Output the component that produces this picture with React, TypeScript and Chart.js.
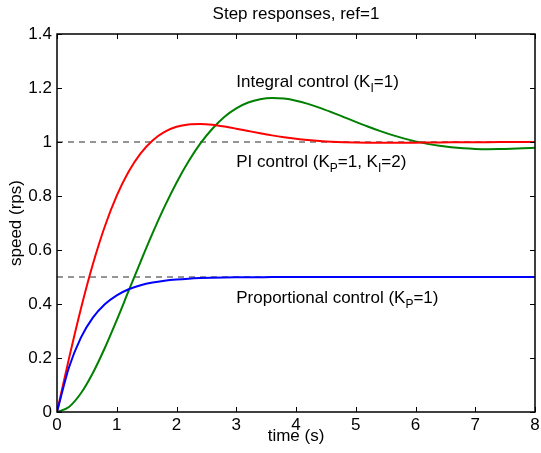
import { useEffect, useRef } from "react";
import { Chart, registerables } from "chart.js";

Chart.register(...registerables);

const timeS = [
  0, 0.2, 0.4, 0.6, 0.8, 1.0, 1.2, 1.4, 1.6, 1.8, 2.0, 2.2, 2.4, 2.6, 2.8, 3.0, 3.2, 3.4, 3.6, 3.8, 4.0,
  4.2, 4.4, 4.6, 4.8, 5.0, 5.2, 5.4, 5.6, 5.8, 6.0, 6.2, 6.4, 6.6, 6.8, 7.0, 7.2, 7.4, 7.6, 7.8, 8.0,
];
const proportional = [
  0, 0.1648, 0.2753, 0.3494, 0.3991, 0.4323, 0.4546, 0.4696, 0.4796, 0.4863, 0.4908, 0.4939, 0.4959,
  0.4972, 0.4982, 0.4988, 0.4992, 0.4994, 0.4996, 0.4997, 0.4998, 0.4999, 0.4999, 0.4999, 0.4999, 0.4999,
  0.5, 0.5, 0.5, 0.5, 0.5, 0.5, 0.5, 0.5, 0.5, 0.5, 0.5, 0.5, 0.5, 0.5, 0.5,
];
const integral = [
  0, 0.0187, 0.0694, 0.1446, 0.2371, 0.3403, 0.4491, 0.5573, 0.6622, 0.7604, 0.8494, 0.9277, 0.9947,
  1.0492, 1.0929, 1.1247, 1.1462, 1.1586, 1.163, 1.1607, 1.1531, 1.1413, 1.1266, 1.1099, 1.0923, 1.0746,
  1.0574, 1.0412, 1.0264, 1.0134, 1.0023, 0.9931, 0.9858, 0.9803, 0.9766, 0.9744, 0.9735, 0.9737, 0.9748,
  0.9767, 0.979,
];
const piControl = [
  0, 0.1976, 0.3826, 0.5471, 0.687, 0.8012, 0.8908, 0.9581, 1.0059, 1.0376, 1.0563, 1.0652, 1.0669,
  1.0637, 1.0573, 1.0493, 1.0407, 1.0323, 1.0245, 1.0177, 1.012, 1.0074, 1.0038, 1.0011, 0.9993, 0.9981,
  0.9974, 0.9971, 0.9971, 0.9973, 0.9976, 0.998, 0.9984, 0.9987, 0.999, 0.9993, 0.9995, 0.9997, 0.9999,
  1.0, 1.0,
];
const refX = [0, 8];
const refOne = [1, 1];
const refHalf = [0.5, 0.5];

const xTickLabels = ["0", "1", "2", "3", "4", "5", "6", "7", "8"];
const yTickLabels = ["0", "0.2", "0.4", "0.6", "0.8", "1", "1.2", "1.4"];
const titleText = "Step responses, ref=1";
const xLabel = "time (s)";
const yLabel = "speed (rps)";

type Part = [string, boolean];
const annotationX = [3, 3, 3];
const annotationY = [1.22, 0.925, 0.42];
const annotationParts: Part[][] = [
  [["Integral control (K", false], ["I", true], ["=1)", false]],
  [["PI control (K", false], ["P", true], ["=1, K", false], ["I", true], ["=2)", false]],
  [["Proportional control (K", false], ["P", true], ["=1)", false]],
];

const FONT = "'Liberation Sans', Arial, Helvetica, sans-serif";
const FS = 17;

const toPts = (xs: number[], ys: number[]) => xs.map((x, i) => ({ x, y: ys[i] }));

const decorPlugin = {
  id: "decor",
  afterDatasetsDraw(chart: any) {
    const { ctx, chartArea } = chart;
    const { left, right, top, bottom } = chartArea;
    const xs = chart.scales.x;
    const ys = chart.scales.y;
    ctx.save();
    ctx.strokeStyle = "#000";
    ctx.lineWidth = 1.5;
    ctx.strokeRect(left, top, right - left, bottom - top);
    ctx.lineWidth = 1;
    const tl = 5;
    ctx.beginPath();
    xs.ticks.forEach((t: any) => {
      const px = Math.round(xs.getPixelForValue(t.value)) + 0.5;
      ctx.moveTo(px, bottom);
      ctx.lineTo(px, bottom - tl);
      ctx.moveTo(px, top);
      ctx.lineTo(px, top + tl);
    });
    ys.ticks.forEach((t: any) => {
      const py = Math.round(ys.getPixelForValue(t.value)) + 0.5;
      ctx.moveTo(left, py);
      ctx.lineTo(left + tl, py);
      ctx.moveTo(right, py);
      ctx.lineTo(right - tl, py);
    });
    ctx.stroke();
    ctx.fillStyle = "#000";
    ctx.font = `${FS}px ${FONT}`;
    ctx.textAlign = "center";
    ctx.textBaseline = "middle";
    ctx.fillText(titleText, (left + right) / 2, top - 20);
    ctx.textAlign = "left";
    annotationParts.forEach((parts, i) => {
      let px = xs.getPixelForValue(annotationX[i]);
      const py = ys.getPixelForValue(annotationY[i]);
      parts.forEach(([txt, sub]) => {
        ctx.font = sub ? `${Math.round(FS * 0.72)}px ${FONT}` : `${FS}px ${FONT}`;
        ctx.fillText(txt, px, sub ? py + 6 : py);
        px += ctx.measureText(txt).width;
      });
    });
    ctx.restore();
  },
};

export default function App() {
  const ref = useRef<HTMLCanvasElement>(null);
  useEffect(() => {
    if (!ref.current) return;
    const chart = new Chart(ref.current, {
      type: "line",
      data: {
        datasets: [
          {
            label: "Proportional control",
            data: toPts(timeS, proportional),
            borderColor: "#0000ff",
            borderWidth: 2,
            pointRadius: 0,
            cubicInterpolationMode: "monotone",
          },
          {
            label: "PI control",
            data: toPts(timeS, piControl),
            borderColor: "#ff0000",
            borderWidth: 2,
            pointRadius: 0,
            cubicInterpolationMode: "monotone",
          },
          {
            label: "Integral control",
            data: toPts(timeS, integral),
            borderColor: "#008000",
            borderWidth: 2,
            pointRadius: 0,
            cubicInterpolationMode: "monotone",
          },
          {
            label: "ref",
            data: toPts(refX, refOne),
            borderColor: "#2a2a2a",
            borderWidth: 1,
            borderDash: [6, 5],
            pointRadius: 0,
          },
          {
            label: "ref/2",
            data: toPts(refX, refHalf),
            borderColor: "#2a2a2a",
            borderWidth: 1,
            borderDash: [6, 5],
            pointRadius: 0,
          },
        ],
      },
      options: {
        responsive: false,
        animation: false,
        events: [],
        layout: { padding: { left: 0, right: 6, top: 34, bottom: 0 } },
        plugins: { legend: { display: false }, title: { display: false }, tooltip: { enabled: false } },
        scales: {
          x: {
            type: "linear",
            min: 0,
            max: 8,
            grid: { display: false, drawTicks: false, tickLength: 0 },
            border: { display: false },
            ticks: {
              stepSize: 1,
              autoSkip: false,
              maxRotation: 0,
              padding: 3,
              color: "#000",
              font: { family: FONT, size: FS },
              callback: (_v: any, i: number) => xTickLabels[i],
            },
            title: {
              display: true,
              text: xLabel,
              color: "#000",
              font: { family: FONT, size: FS },
              padding: { top: 0, bottom: 6 },
            },
            afterFit: (s: any) => {
              s.height = 41;
              s.paddingLeft = 0;
              s.paddingRight = 0;
            },
          },
          y: {
            type: "linear",
            min: 0,
            max: 1.4,
            grid: { display: false, drawTicks: false, tickLength: 0 },
            border: { display: false },
            ticks: {
              stepSize: 0.2,
              autoSkip: false,
              padding: 5,
              color: "#000",
              font: { family: FONT, size: FS },
              callback: (_v: any, i: number) => yTickLabels[i],
            },
            title: {
              display: true,
              text: yLabel,
              color: "#000",
              font: { family: FONT, size: FS },
              padding: { top: 6, bottom: 0 },
            },
            afterFit: (s: any) => {
              s.width = 57;
              s.paddingTop = 0;
              s.paddingBottom = 0;
            },
          },
        },
      },
      plugins: [decorPlugin],
    } as any);
    return () => chart.destroy();
  }, []);
  return (
    <div style={{ position: "fixed", left: 0, top: 0, width: 541, height: 453, background: "#fff" }}>
      <canvas ref={ref} width={541} height={453} style={{ display: "block" }} />
    </div>
  );
}
